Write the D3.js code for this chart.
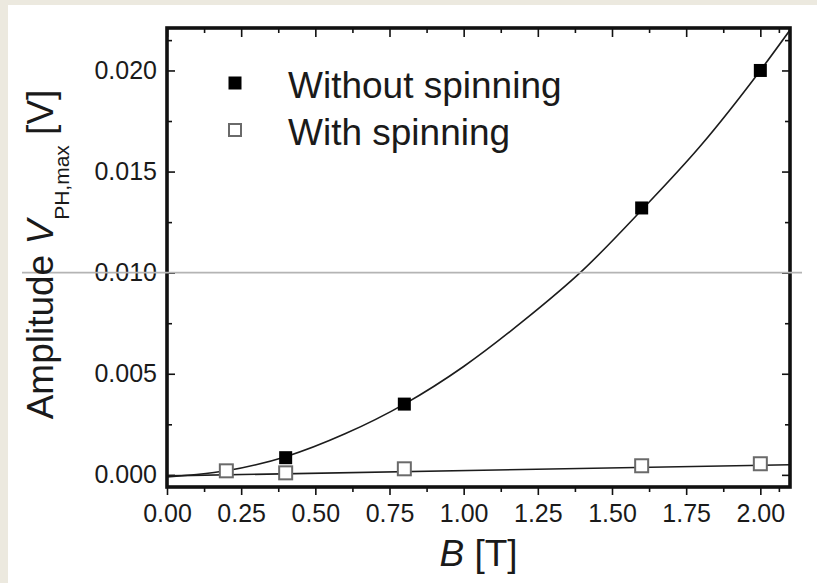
<!DOCTYPE html>
<html>
<head>
<meta charset="utf-8">
<script src="https://cdn.jsdelivr.net/npm/d3@7"></script>
<style>
  html, body { margin: 0; padding: 0; background: #ece9df; }
  svg { display: block; }
  text { font-family: "Liberation Sans", Arial, sans-serif; fill: #1a1a1a; }
</style>
</head>
<body>
<svg id="chart" width="817" height="583"></svg>
<script>
// Measured photo-Hall amplitude versus magnetic field
const fieldB = [0.2, 0.4, 0.8, 1.6, 2.0];
const withoutSpinningB = [0.4, 0.8, 1.6, 2.0];
const withoutSpinning = [0.00085, 0.0035, 0.0132, 0.0200];
const withSpinning = [0.0002, 0.0001, 0.0003, 0.00045, 0.00055];

// Fitted curves, sampled along their length
const fitWithoutB = [0, 0.1, 0.2, 0.3, 0.4, 0.6, 0.8, 1.0, 1.2, 1.4, 1.6, 1.8, 2.0, 2.1];
const fitWithout = [-0.0001, 0.00002, 0.0002, 0.0005, 0.0009, 0.00203, 0.0035, 0.00536, 0.0076, 0.0101, 0.0131, 0.0163, 0.0200, 0.0220];
const fitWithB = [0, 2.1];
const fitWith = [-0.00005, 0.0005];

const xTicks = [0, 0.25, 0.5, 0.75, 1.0, 1.25, 1.5, 1.75, 2.0];
const yTicks = [0, 0.005, 0.010, 0.015, 0.020];
const xMinor = [0.125, 0.375, 0.625, 0.875, 1.125, 1.375, 1.625, 1.875, 2.0625];
const yMinor = [0.0025, 0.0075, 0.0125, 0.0175, 0.0215];
const legendLabels = ["Without spinning", "With spinning"];

const svg = d3.select("#chart");
const W = 817, H = 583;
const L = 167, R = 790, T = 28, Bm = 487;

// page background: white sheet on a beige border
svg.append("rect").attr("x", 8).attr("y", 5).attr("width", W - 8).attr("height", H - 5).attr("fill", "#ffffff");

const x = d3.scaleLinear().domain([0, 2.1]).range([L, R]);
const y = d3.scaleLinear().domain([-0.0006, 0.0221]).range([Bm, T]);

const clipId = "plotclip";
svg.append("clipPath").attr("id", clipId)
  .append("rect").attr("x", L).attr("y", T).attr("width", R - L).attr("height", Bm - T);

// axes: bottom ticks outward, other sides inward
const axisStyle = g => {
  g.select(".domain").remove();
  g.selectAll("line").attr("stroke", "#111").attr("stroke-width", 1.6);
};
svg.append("g").attr("transform", `translate(0,${Bm})`)
  .call(d3.axisBottom(x).tickValues(xTicks).tickFormat(d3.format(".2f")).tickSize(8).tickPadding(9))
  .call(axisStyle)
  .call(g => g.selectAll("text").attr("font-size", 25).attr("fill", "#1a1a1a").attr("font-family", "Liberation Sans, Arial, sans-serif"));
svg.append("g").attr("transform", `translate(0,${Bm})`)
  .call(d3.axisBottom(x).tickValues(xMinor.filter(v => v < 2.1)).tickFormat("").tickSize(5))
  .call(axisStyle);
svg.append("g").attr("transform", `translate(0,${T})`)
  .call(d3.axisTop(x).tickValues(xTicks).tickFormat("").tickSize(-9))
  .call(axisStyle);
svg.append("g").attr("transform", `translate(0,${T})`)
  .call(d3.axisTop(x).tickValues(xMinor.filter(v => v < 2.1)).tickFormat("").tickSize(-5))
  .call(axisStyle);
svg.append("g").attr("transform", `translate(${L},0)`)
  .call(d3.axisLeft(y).tickValues(yTicks).tickFormat(d3.format(".3f")).tickSize(-8).tickPadding(10))
  .call(axisStyle)
  .call(g => g.selectAll("text").attr("font-size", 25).attr("fill", "#1a1a1a").attr("font-family", "Liberation Sans, Arial, sans-serif").attr("x", -10));
svg.append("g").attr("transform", `translate(${L},0)`)
  .call(d3.axisLeft(y).tickValues(yMinor).tickFormat("").tickSize(-5))
  .call(axisStyle);
svg.append("g").attr("transform", `translate(${R},0)`)
  .call(d3.axisRight(y).tickValues(yTicks).tickFormat("").tickSize(-8))
  .call(axisStyle);
svg.append("g").attr("transform", `translate(${R},0)`)
  .call(d3.axisRight(y).tickValues(yMinor).tickFormat("").tickSize(-5))
  .call(axisStyle);

// fit curves
const line = d3.line().x(d => x(d[0])).y(d => y(d[1])).curve(d3.curveMonotoneX);
const plot = svg.append("g").attr("clip-path", `url(#${clipId})`);
plot.append("path").datum(d3.zip(fitWithoutB, fitWithout))
  .attr("d", line).attr("fill", "none").attr("stroke", "#1c1c1c").attr("stroke-width", 1.6);
plot.append("path").datum(d3.zip(fitWithB, fitWith))
  .attr("d", line).attr("fill", "none").attr("stroke", "#1c1c1c").attr("stroke-width", 1.6);

// markers
const ms = 13;
svg.append("g").selectAll("rect").data(d3.zip(fieldB, withSpinning)).join("rect")
  .attr("x", d => x(d[0]) - ms / 2).attr("y", d => y(d[1]) - ms / 2)
  .attr("width", ms).attr("height", ms)
  .attr("fill", "#ffffff").attr("stroke", "#6a6a6a").attr("stroke-width", 2);
svg.append("g").selectAll("rect").data(d3.zip(withoutSpinningB, withoutSpinning)).join("rect")
  .attr("x", d => x(d[0]) - ms / 2).attr("y", d => y(d[1]) - ms / 2)
  .attr("width", ms).attr("height", ms).attr("fill", "#000");

// frame
svg.append("rect").attr("x", L).attr("y", T).attr("width", R - L).attr("height", Bm - T)
  .attr("fill", "none").attr("stroke", "#111").attr("stroke-width", 3.6);

// thin grey rule across the sheet at 0.010
svg.append("line").attr("x1", 22).attr("x2", 802).attr("y1", y(0.010)).attr("y2", y(0.010))
  .attr("stroke", "#b4b4b4").attr("stroke-width", 1.6);

// legend
const leg = svg.append("g");
leg.append("rect").attr("x", 235 - 6.5).attr("y", 83 - 6.5).attr("width", 13).attr("height", 13).attr("fill", "#000");
leg.append("rect").attr("x", 235 - 6).attr("y", 130 - 6).attr("width", 12).attr("height", 12)
  .attr("fill", "#fff").attr("stroke", "#6a6a6a").attr("stroke-width", 2);
leg.append("text").attr("x", 288).attr("y", 98).attr("font-size", 37).text(legendLabels[0]);
leg.append("text").attr("x", 288).attr("y", 145).attr("font-size", 37).text(legendLabels[1]);

// axis titles
const xt = svg.append("text").attr("x", (L + R) / 2).attr("y", 566).attr("text-anchor", "middle").attr("font-size", 37);
xt.append("tspan").attr("font-style", "italic").text("B");
xt.append("tspan").text(" [T]");

const yt = svg.append("text").attr("transform", `translate(53,${(T + Bm) / 2 - 3}) rotate(-90)`)
  .attr("text-anchor", "middle").attr("font-size", 37);
yt.append("tspan").text("Amplitude ");
yt.append("tspan").attr("font-style", "italic").text("V");
yt.append("tspan").attr("font-size", 21).attr("dy", 16).text("PH,max");
yt.append("tspan").attr("dy", -16).text(" [V]");
</script>
</body>
</html>
